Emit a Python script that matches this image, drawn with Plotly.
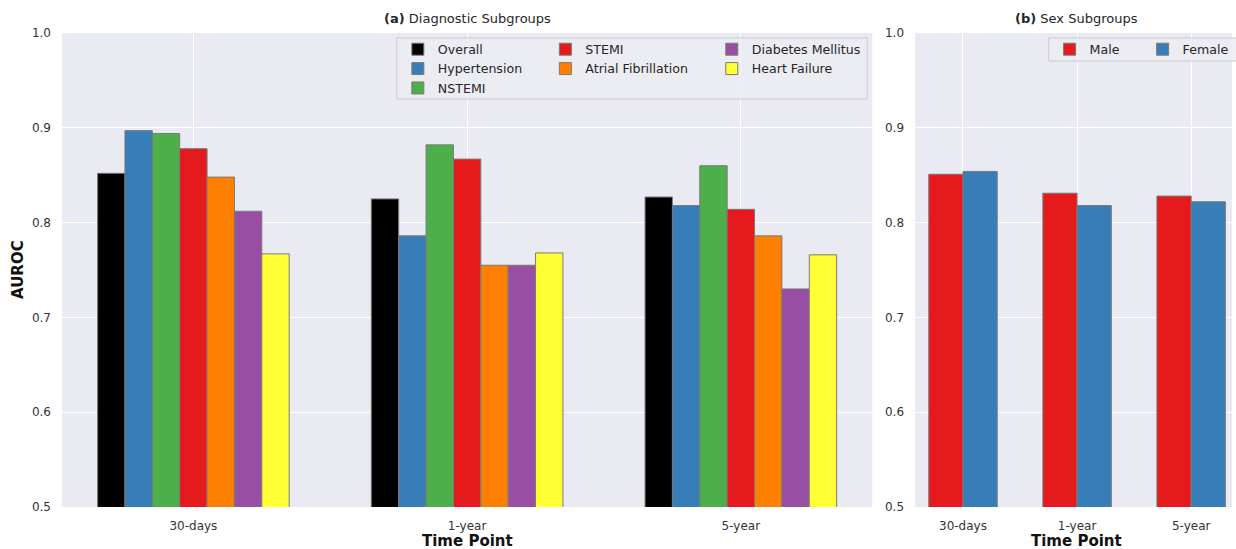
import plotly.graph_objects as go

# ---------------- data ----------------
time_points = ["30-days", "1-year", "5-year"]

overall = [0.852, 0.825, 0.827]
hypertension = [0.897, 0.786, 0.818]
nstemi = [0.894, 0.882, 0.860]
stemi = [0.878, 0.867, 0.814]
atrial_fibrillation = [0.848, 0.755, 0.786]
diabetes_mellitus = [0.812, 0.755, 0.730]
heart_failure = [0.767, 0.768, 0.766]

male = [0.851, 0.831, 0.828]
female = [0.854, 0.818, 0.822]

y_ticks = [0.5, 0.6, 0.7, 0.8, 0.9, 1.0]

# ---------------- styling ----------------
FONT = "DejaVu Sans"
BG = "#EAEAF2"
EDGE = "#7a7a7a"
TICK_COLOR = "#333333"
LEG_BG = "rgba(236,236,243,0.85)"

W, H = 1236, 549
ML, MR, MT, MB = 62, 0, 33, 42
PW = W - ML - MR
PH = H - MT - MB


def px_x(p):
    return (p - ML) / PW


def px_y(p):
    return (H - MB - p) / PH


diag_series = [
    ("Overall", overall, "#000000", "legend"),
    ("Hypertension", hypertension, "#377EB8", "legend"),
    ("NSTEMI", nstemi, "#4DAF4A", "legend"),
    ("STEMI", stemi, "#E41A1C", "legend2"),
    ("Atrial Fibrillation", atrial_fibrillation, "#FF7F00", "legend2"),
    ("Diabetes Mellitus", diabetes_mellitus, "#984EA3", "legend3"),
    ("Heart Failure", heart_failure, "#FFFF33", "legend3"),
]
sex_series = [
    ("Male", male, "#E41A1C"),
    ("Female", female, "#377EB8"),
]

fig = go.Figure()

bw_a = 0.1
n_a = len(diag_series)
for i, (name, vals, color, leg) in enumerate(diag_series):
    fig.add_trace(go.Bar(
        x=time_points, y=vals, name=name,
        marker=dict(color=color, line=dict(color=EDGE, width=1)),
        width=bw_a, offset=-n_a * bw_a / 2 + i * bw_a,
        xaxis="x", yaxis="y", legend=leg,
    ))

bw_b = 0.3
n_b = len(sex_series)
for i, (name, vals, color) in enumerate(sex_series):
    fig.add_trace(go.Bar(
        x=time_points, y=vals, name=name,
        marker=dict(color=color, line=dict(color=EDGE, width=1)),
        width=bw_b, offset=-n_b * bw_b / 2 + i * bw_b,
        xaxis="x2", yaxis="y2", legend="legend4",
    ))

axis_common = dict(
    showgrid=True, gridcolor="white", gridwidth=1,
    zeroline=False, showline=False, ticks="",
    tickfont=dict(family=FONT, size=12, color=TICK_COLOR),
)

leg_common = dict(
    font=dict(family=FONT, size=12.6, color="#262626"),
    bgcolor="rgba(0,0,0,0)", borderwidth=0,
    xanchor="left", yanchor="top",
    itemclick=False, itemdoubleclick=False,
)

leg_top = px_y(34.5)

fig.update_layout(
    width=W, height=H,
    margin=dict(l=ML, r=MR, t=MT, b=MB, pad=0),
    paper_bgcolor="white", plot_bgcolor=BG,
    barmode="overlay",
    font=dict(family=FONT, size=12, color=TICK_COLOR),
    xaxis=dict(domain=[0, px_x(875)], type="category", range=[-0.48, 2.48],
               anchor="y", ticklabelstandoff=10, **axis_common),
    yaxis=dict(domain=[0, 1], range=[0.5, 1.0], tickvals=y_ticks,
               ticktext=[f"{v:.1f}" for v in y_ticks], anchor="x",
               ticklabelstandoff=10, **axis_common),
    xaxis2=dict(domain=[px_x(918), 1], type="category", range=[-0.42, 2.358],
                anchor="y2", ticklabelstandoff=10, **axis_common),
    yaxis2=dict(domain=[0, 1], range=[0.5, 1.0], tickvals=y_ticks,
                ticktext=[f"{v:.1f}" for v in y_ticks], anchor="x2",
                ticklabelstandoff=10, **axis_common),
    legend=dict(x=px_x(399), y=leg_top, orientation="v", **leg_common),
    legend2=dict(x=px_x(547), y=leg_top, orientation="v", **leg_common),
    legend3=dict(x=px_x(714), y=leg_top, orientation="v", **leg_common),
    legend4=dict(x=px_x(1053), y=px_y(34.5), orientation="h", entrywidth=48,
                 **leg_common),
    showlegend=True,
    hovermode=False,
)

# legend frames
fig.add_shape(type="rect", xref="paper", yref="paper",
              x0=px_x(398), x1=px_x(870), y0=px_y(99), y1=px_y(38),
              line=dict(color="#CCCCCC", width=1),
              fillcolor=LEG_BG, layer="above")
fig.add_shape(type="rect", xref="paper", yref="paper",
              x0=px_x(1052), x1=1.02, y0=px_y(61), y1=px_y(38),
              line=dict(color="#CCCCCC", width=1),
              fillcolor=LEG_BG, layer="above")

# titles
xa_mid = px_x((62 + 875) / 2)
xb_mid = px_x(1080)
fig.add_annotation(text="<b>(a)</b> Diagnostic Subgroups", xref="paper", yref="paper",
                   x=xa_mid, y=1, xanchor="center", yanchor="bottom", yshift=5,
                   showarrow=False, font=dict(family=FONT, size=13, color="#262626"))
fig.add_annotation(text="<b>(b)</b> Sex Subgroups", xref="paper", yref="paper",
                   x=xb_mid, y=1, xanchor="center", yanchor="bottom", yshift=5,
                   showarrow=False, font=dict(family=FONT, size=13, color="#262626"))
for xm in (xa_mid, xb_mid):
    fig.add_annotation(text="<b>Time Point</b>", xref="paper", yref="paper",
                       x=xm, y=0, xanchor="center", yanchor="top", yshift=-23,
                       showarrow=False, font=dict(family=FONT, size=15, color="#111111"))
fig.add_annotation(text="<b>AUROC</b>", xref="paper", yref="paper",
                   x=0, y=0.5, xanchor="center", yanchor="middle", xshift=-44,
                   textangle=-90, showarrow=False,
                   font=dict(family=FONT, size=15, color="#111111"))

fig.write_html("out.html", config={"displayModeBar": False},
               post_script="document.body.style.margin='0';")
